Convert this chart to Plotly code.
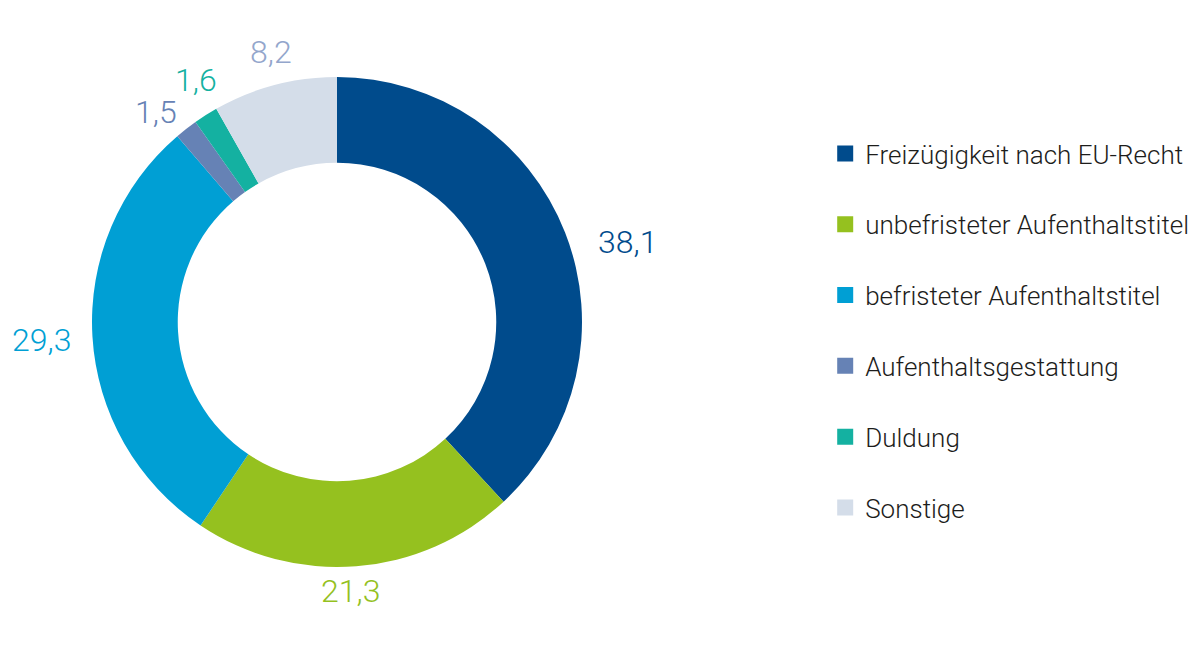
import math
import plotly.graph_objects as go

labels = ["Freizügigkeit nach EU-Recht", "unbefristeter Aufenthaltstitel",
          "befristeter Aufenthaltstitel", "Aufenthaltsgestattung", "Duldung", "Sonstige"]
values = [38.1, 21.3, 29.3, 1.5, 1.6, 8.2]
value_text = ["38,1", "21,3", "29,3", "1,5", "1,6", "8,2"]
colors = ["#004b8c", "#95c11f", "#009fd4", "#6682b5", "#14b1a1", "#d4dde9"]
text_colors = ["#004b8c", "#95c11f", "#009fd4", "#6682b5", "#14b1a1", "#93a6cc"]

# hand nudges for the value labels (pixels), like the original layout
label_nudge = [(13, -29), (-8, 6), (0, 0), (-5, -16), (12, 1), (5, 0)]

font_family = "Roboto, DejaVu Sans Condensed, sans-serif"
W, H = 1200, 665
# donut placement in pixels (centre and outer radius); page has 8px body margin
cx, cy, R = 329, 314, 245

fig = go.Figure()
fig.add_trace(go.Pie(
    labels=labels,
    values=values,
    textinfo="none",
    marker=dict(colors=colors, line=dict(width=0)),
    hole=0.65,
    sort=False,
    direction="clockwise",
    rotation=0,
    showlegend=False,
    hoverinfo="label+value",
    domain=dict(x=[(cx - R) / W, (cx + R) / W], y=[1 - (cy + R) / H, 1 - (cy - R) / H]),
))

# value labels outside the ring, placed at the middle angle of each slice
total = sum(values)
cum = 0
for v, t, c, (dx, dy) in zip(values, value_text, text_colors, label_nudge):
    mid = (cum + v / 2) / total
    cum += v
    a = 2 * math.pi * mid
    s, co = math.sin(a), math.cos(a)
    hw = 9 * len(t)
    hh = 14
    r = R + 14 + abs(s) * hw + abs(co) * hh
    fig.add_annotation(
        x=(cx + r * s) / W, y=1 - (cy - r * co) / H,
        xref="paper", yref="paper", text=t, showarrow=False,
        xanchor="center", yanchor="middle", xshift=dx, yshift=dy,
        font=dict(size=32, color=c, family=font_family, weight=300),
    )

# legend entries as dummy traces so the spacing can be set
for i, (name, c) in enumerate(zip(labels, colors)):
    fig.add_trace(go.Scatter(
        x=[None], y=[None], mode="markers", name=name,
        marker=dict(symbol="square", size=20, color=c),
        legendgroup=str(i),
    ))

fig.update_xaxes(visible=False)
fig.update_yaxes(visible=False)
fig.update_layout(
    width=W,
    height=H,
    paper_bgcolor="white",
    plot_bgcolor="white",
    margin=dict(l=0, r=0, t=0, b=0),
    font=dict(family=font_family, color="#1d1d1b"),
    legend=dict(
        x=0.681, y=0.515, xanchor="left", yanchor="middle",
        font=dict(size=26, color="#1d1d1b", weight=300),
        tracegroupgap=34,
        itemsizing="trace",
    ),
)

fig.write_html("out.html")
